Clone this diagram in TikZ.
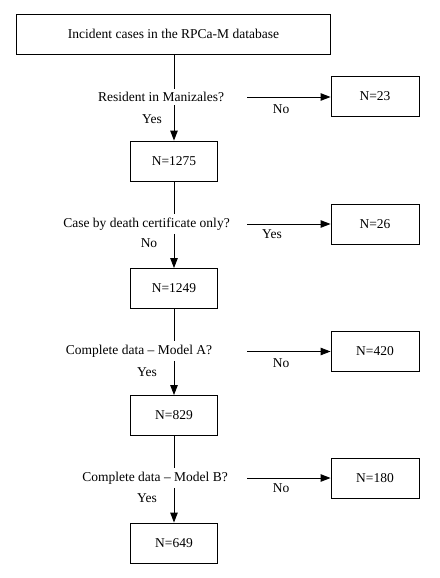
\documentclass[tikz,border=0pt]{standalone}
\usepackage{fontspec}
\setmainfont{Liberation Serif}
\usetikzlibrary{arrows.meta}
\begin{document}
\begin{tikzpicture}[x=1pt,y=-1pt,
  font=\fontsize{13.5}{16}\selectfont,
  box/.style={draw,line width=0.9pt,minimum width=87pt,minimum height=40pt,inner sep=0pt},
  rbox/.style={draw,line width=0.9pt,minimum width=88pt,minimum height=40pt,inner sep=0pt},
  quest/.style={inner xsep=0pt,inner ysep=3.5pt},
  lab/.style={inner sep=0pt},
  conn/.style={line width=0.9pt},
  arr/.style={line width=0.9pt,-{Triangle[length=10pt,width=7.5pt]}}]
\useasboundingbox (0,0) rectangle (439,578);
\node[draw,line width=0.9pt,minimum width=314pt,minimum height=40pt,inner sep=0pt] (top) at (173.5,34) {Incident cases in the RPCa-M database};
% step 1
\node[quest] (q1) at (161,97) {Resident in Manizales?};
\node[box] (b1) at (174,161) {N=1275};
\node[rbox] (r1) at (375,96.5) {N=23};
\node[lab] (yes1) at (152,119) {Yes};
\node[lab] (no1) at (281,109) {No};
\coordinate (h1) at (247,97);
\draw[conn] (top.south -| b1) -- (b1 |- q1.north);
\draw[arr] (b1 |- q1.south) -- (b1.north);
\draw[arr] (h1) -- (r1.west |- h1);
% step 2
\node[quest] (q2) at (146.5,224) {Case by death certificate only?};
\node[box] (b2) at (174,288.5) {N=1249};
\node[rbox] (r2) at (375,224) {N=26};
\node[lab] (yes2) at (272,234) {Yes};
\node[lab] (no2) at (149,243) {No};
\coordinate (h2) at (247,224);
\draw[conn] (b1.south) -- (b1 |- q2.north);
\draw[arr] (b1 |- q2.south) -- (b2.north);
\draw[arr] (h2) -- (r2.west |- h2);
% step 3
\node[quest] (q3) at (139,351) {Complete data -- Model A?};
\node[box] (b3) at (174,415.5) {N=829};
\node[rbox] (r3) at (375,351.5) {N=420};
\node[lab] (yes3) at (147,372) {Yes};
\node[lab] (no3) at (281,363) {No};
\coordinate (h3) at (247,351.5);
\draw[conn] (b2.south) -- (b2 |- q3.north);
\draw[arr] (b2 |- q3.south) -- (b3.north);
\draw[arr] (h3) -- (r3.west |- h3);
% step 4
\node[quest] (q4) at (155,478) {Complete data -- Model B?};
\node[box] (b4) at (174,543) {N=649};
\node[rbox] (r4) at (375,478.5) {N=180};
\node[lab] (yes4) at (147,498) {Yes};
\node[lab] (no4) at (281,488) {No};
\coordinate (h4) at (247,478);
\draw[conn] (b3.south) -- (b3 |- q4.north);
\draw[arr] (b3 |- q4.south) -- (b4.north);
\draw[arr] (h4) -- (r4.west |- h4);
\end{tikzpicture}
\end{document}
